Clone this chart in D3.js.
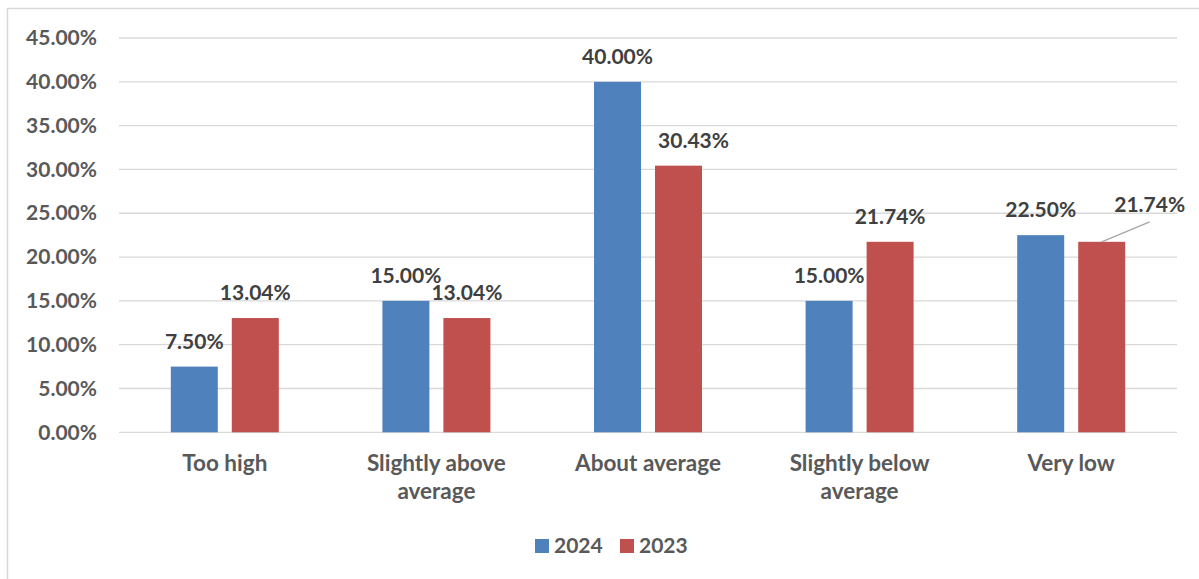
<!DOCTYPE html>
<html>
<head>
<meta charset="utf-8">
<script src="https://cdn.jsdelivr.net/npm/d3@7/dist/d3.min.js"></script>
<style>
  html, body { margin: 0; padding: 0; background: #fff; }
  svg { display: block; }
  text { font-family: Lato, "Open Sans", sans-serif; font-weight: bold; }
</style>
</head>
<body>
<script>
// ---- data ----
const categories = [["Too high"], ["Slightly above", "average"], ["About average"], ["Slightly below", "average"], ["Very low"]];
const seriesNames = ["2024", "2023"];
const values2024 = [7.50, 15.00, 40.00, 15.00, 22.50];
const values2023 = [13.04, 13.04, 30.43, 21.74, 21.74];
const yTicks = [0, 5, 10, 15, 20, 25, 30, 35, 40, 45];
const colors = ["#4F81BD", "#C0504D"];

// label nudges (layout only): [seriesIndex, categoryIndex, dx, dy, leader]
const labelNudges = [[1, 2, 15, 0, false], [1, 4, 48, -12, true]];

const W = 1199, H = 579;
const plot = { left: 119, right: 1177, top: 38, bottom: 432.3 };

const svg = d3.select("body").append("svg").attr("width", W).attr("height", H);

// chart border
svg.append("rect").attr("x", 7.5).attr("y", 8.5).attr("width", 1300).attr("height", 700)
  .attr("fill", "none").attr("stroke", "#d9d9d9").attr("stroke-width", 1.5);

const catKeys = categories.map(c => c.join(" "));
const x0 = d3.scaleBand().domain(catKeys).range([plot.left, plot.right]).padding(0);
const groupW = 108;
const x1 = d3.scaleBand().domain(seriesNames)
  .range([(x0.bandwidth() - groupW) / 2, (x0.bandwidth() + groupW) / 2])
  .paddingInner(14 / 61).paddingOuter(0);
const y = d3.scaleLinear().domain([0, 45]).range([plot.bottom, plot.top]);

// gridlines
svg.append("g").selectAll("line").data(yTicks).join("line")
  .attr("x1", plot.left).attr("x2", plot.right)
  .attr("y1", d => y(d)).attr("y2", d => y(d))
  .attr("stroke", "#d9d9d9").attr("stroke-width", 1.3);

// y axis labels
const yAxis = d3.axisLeft(y).tickValues(yTicks).tickSize(0).tickPadding(22)
  .tickFormat(d => d.toFixed(2) + "%");
const gy = svg.append("g").attr("transform", `translate(${plot.left},0)`).call(yAxis);
gy.select(".domain").remove();
gy.selectAll("text").attr("fill", "#595959").style("font-size", "21px")
  .style("font-family", "Lato, sans-serif").style("font-weight", "bold");

// bars
const seriesVals = [values2024, values2023];
const data = [];
seriesVals.forEach((vals, si) => vals.forEach((v, ci) => data.push({ si, ci, v })));

svg.append("g").selectAll("rect").data(data).join("rect")
  .attr("x", d => x0(catKeys[d.ci]) + x1(seriesNames[d.si]))
  .attr("y", d => y(d.v))
  .attr("width", x1.bandwidth())
  .attr("height", d => y(0) - y(d.v))
  .attr("fill", d => colors[d.si]);

// data labels
function nudge(d) {
  const n = labelNudges.find(n => n[0] === d.si && n[1] === d.ci);
  return n ? { dx: n[2], dy: n[3], leader: n[4] } : { dx: 0, dy: 0, leader: false };
}
const lg = svg.append("g");
data.forEach(d => {
  const cx = x0(catKeys[d.ci]) + x1(seriesNames[d.si]) + x1.bandwidth() / 2;
  const n = nudge(d);
  const ty = y(d.v) - 18 + n.dy;
  if (n.leader) {
    lg.append("line").attr("x1", cx).attr("y1", y(d.v))
      .attr("x2", cx + n.dx).attr("y2", ty + 10)
      .attr("stroke", "#a6a6a6").attr("stroke-width", 1.3);
  }
  lg.append("text").attr("x", cx + n.dx).attr("y", ty)
    .attr("text-anchor", "middle").attr("fill", "#404040")
    .style("font-size", "21px").text(d.v.toFixed(2) + "%");
});

// category labels
const cg = svg.append("g");
categories.forEach((lines, ci) => {
  const cx = x0(catKeys[ci]) + x0.bandwidth() / 2;
  const t = cg.append("text").attr("text-anchor", "middle").attr("fill", "#595959")
    .style("font-size", "22.5px");
  lines.forEach((ln, li) => {
    t.append("tspan").attr("x", cx).attr("y", plot.bottom + 38.5 + li * 28.5).text(ln);
  });
});

// legend
const legend = svg.append("g");
const legX = [535, 620];
seriesNames.forEach((s, i) => {
  legend.append("rect").attr("x", legX[i]).attr("y", 539).attr("width", 14).attr("height", 14)
    .attr("fill", colors[i]);
  legend.append("text").attr("x", legX[i] + 19).attr("y", 552.7).attr("fill", "#595959")
    .style("font-size", "21px").text(s);
});
</script>
</body>
</html>
